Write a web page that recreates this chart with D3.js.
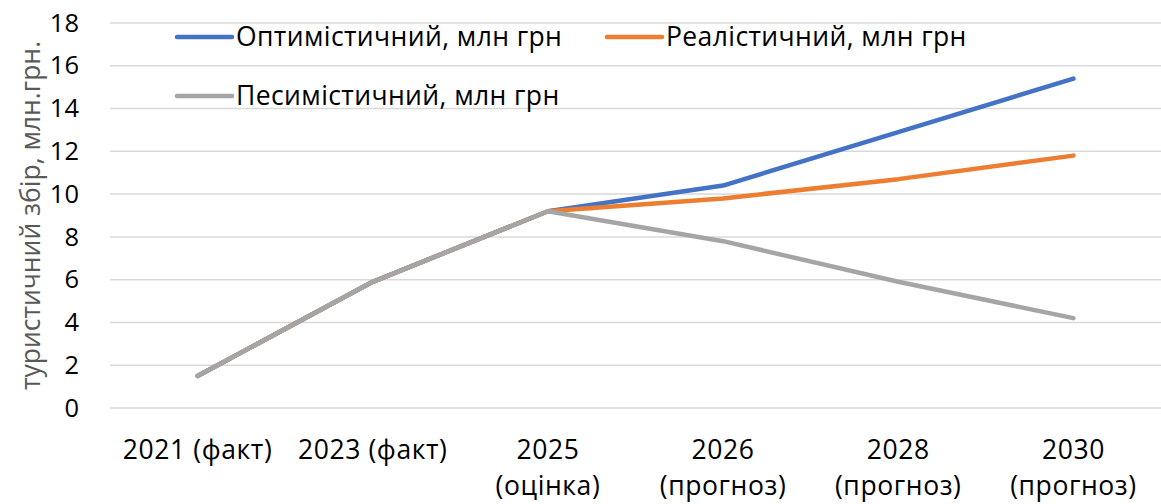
<!DOCTYPE html>
<html>
<head>
<meta charset="utf-8">
<script src="https://cdn.jsdelivr.net/npm/d3@7"></script>
<style>
  body { margin: 0; background: #fff; }
  svg text { font-family: "Open Sans", sans-serif; }
</style>
</head>
<body>
<div id="chart"></div>
<script>
// categories (two-line labels split by \n)
var categories = ["2021 (факт)", "2023 (факт)", "2025\n(оцінка)", "2026\n(прогноз)", "2028\n(прогноз)", "2030\n(прогноз)"];
var optimistic = [1.5, 5.9, 9.2, 10.4, 12.9, 15.4];
var realistic = [1.5, 5.9, 9.2, 9.8, 10.7, 11.8];
var pessimistic = [1.5, 5.9, 9.2, 7.8, 5.9, 4.2];
var yTicks = [0, 2, 4, 6, 8, 10, 12, 14, 16, 18];
var seriesNames = ["Оптимістичний, млн грн", "Реалістичний, млн грн", "Песимістичний, млн грн"];
var yTitle = "туристичний збір, млн.грн.";

var width = 1161, height = 504;
var plot = { left: 110, right: 1161, top: 23, bottom: 408 };
var fontSize = 26.5;

var svg = d3.select("#chart").append("svg")
  .attr("width", width)
  .attr("height", height);

var x = d3.scaleBand()
  .domain(categories)
  .range([plot.left, plot.right]);

var y = d3.scaleLinear()
  .domain([0, 18])
  .range([plot.bottom, plot.top]);

// gridlines
svg.append("g")
  .selectAll("line")
  .data(yTicks)
  .enter()
  .append("line")
  .attr("x1", plot.left)
  .attr("x2", plot.right)
  .attr("y1", d => y(d))
  .attr("y2", d => y(d))
  .attr("stroke", "#d9d9d9")
  .attr("stroke-width", 1.5);

// y axis labels
var yAxis = svg.append("g")
  .attr("transform", "translate(" + plot.left + ",0)")
  .call(d3.axisLeft(y).tickValues(yTicks).tickSize(0).tickPadding(31));
yAxis.select(".domain").remove();
yAxis.selectAll("text")
  .attr("font-size", 25.5)
  .attr("fill", "#000")
  .style("font-family", "'Open Sans', sans-serif");

// y title
svg.append("text")
  .attr("transform", "translate(40," + ((plot.top + plot.bottom) / 2) + ") rotate(-90)")
  .attr("text-anchor", "middle")
  .attr("font-size", 26.5)
  .attr("fill", "#595959")
  .text(yTitle);

// x labels
svg.append("g")
  .selectAll("text")
  .data(categories)
  .enter()
  .append("text")
  .attr("x", d => x(d) + x.bandwidth() / 2)
  .attr("y", 459)
  .attr("text-anchor", "middle")
  .attr("font-size", fontSize)
  .attr("letter-spacing", 0.6)
  .attr("fill", "#000")
  .each(function(d) {
    var parts = d.split("\n");
    var t = d3.select(this);
    parts.forEach((p, i) => {
      t.append("tspan")
        .attr("x", x(d) + x.bandwidth() / 2)
        .attr("dy", i === 0 ? 0 : 36)
        .text(p);
    });
  });

// lines
var line = d3.line()
  .x((d, i) => x(categories[i]) + x.bandwidth() / 2)
  .y(d => y(d));

var series = [
  { name: seriesNames[0], values: optimistic, color: "#4472C4" },
  { name: seriesNames[1], values: realistic, color: "#ED7D31" },
  { name: seriesNames[2], values: pessimistic, color: "#A5A5A5" }
];

svg.append("g")
  .selectAll("path")
  .data(series)
  .enter()
  .append("path")
  .attr("d", d => line(d.values))
  .attr("fill", "none")
  .attr("stroke", d => d.color)
  .attr("stroke-width", 4.5)
  .attr("stroke-linecap", "round")
  .attr("stroke-linejoin", "round");

// legend
var legendPos = [[177, 37], [607, 37], [177, 96]];
var legend = svg.append("g")
  .selectAll("g")
  .data(series)
  .enter()
  .append("g")
  .attr("transform", (d, i) => "translate(" + legendPos[i][0] + "," + legendPos[i][1] + ")");
legend.append("line")
  .attr("x1", 0)
  .attr("x2", 55)
  .attr("stroke", d => d.color)
  .attr("stroke-width", 4.5)
  .attr("stroke-linecap", "round");
legend.append("text")
  .attr("x", 59)
  .attr("y", 9)
  .attr("font-size", fontSize)
  .attr("letter-spacing", 0.4)
  .attr("fill", "#000")
  .text(d => d.name);
</script>
</body>
</html>
